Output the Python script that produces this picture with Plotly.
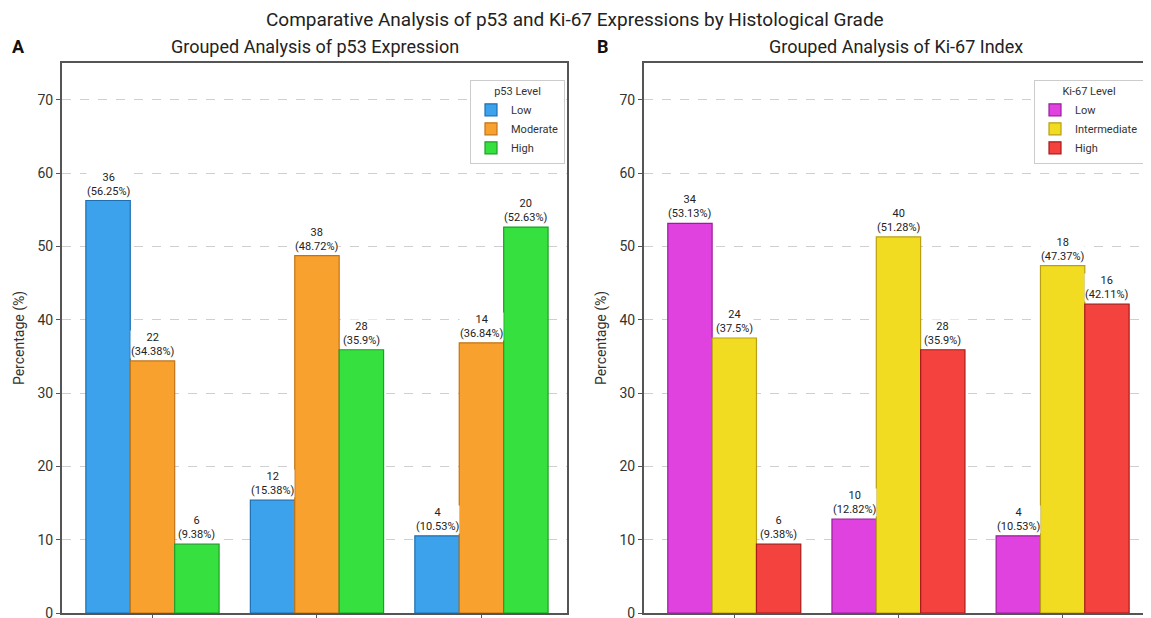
import plotly.graph_objects as go

# ---- data ----
grades = ["Grade I", "Grade II", "Grade III"]

p53_levels = ["Low", "Moderate", "High"]
p53_counts = {
    "Low": [36, 12, 4],
    "Moderate": [22, 38, 14],
    "High": [6, 28, 20],
}
p53_pct = {
    "Low": [56.25, 15.38, 10.53],
    "Moderate": [34.38, 48.72, 36.84],
    "High": [9.38, 35.9, 52.63],
}

ki_levels = ["Low", "Intermediate", "High"]
ki_counts = {
    "Low": [34, 10, 4],
    "Intermediate": [24, 40, 18],
    "High": [6, 28, 16],
}
ki_pct = {
    "Low": [53.13, 12.82, 10.53],
    "Intermediate": [37.5, 51.28, 47.37],
    "High": [9.38, 35.9, 42.11],
}

p53_colors = ["#3DA2EC", "#F9A12E", "#36E03E"]
p53_edges = ["#1F6FB0", "#C27414", "#1E9E28"]
ki_colors = ["#E042E0", "#F2DC22", "#F4433E"]
ki_edges = ["#9A1E9A", "#B8A010", "#A81A18"]

# page has an 8px body margin; figure sized to fit in the 1151x618 window
OFF = 8
W, H = 1151 - OFF, 618 - OFF
FONT = "Roboto"

def px_x(p):
    return (p - OFF) / W

def px_y(p):
    return 1 - (p - OFF) / H

fig = go.Figure()

offsets = [-0.27, 0.0, 0.27]
bar_w = 0.27

def add_panel(levels, counts, pct, colors, edges, xa, ya, legend):
    for j, lvl in enumerate(levels):
        xs = [i + offsets[j] for i in range(len(grades))]
        fig.add_trace(go.Bar(
            x=xs, y=pct[lvl], width=bar_w, name=lvl,
            marker=dict(color=colors[j], line=dict(color=edges[j], width=1.2)),
            xaxis=xa, yaxis=ya, legend=legend,
            customdata=grades,
            hovertemplate="%{customdata}<br>%{y}%<extra>" + lvl + "</extra>",
        ))
        for i in range(len(grades)):
            fig.add_annotation(
                x=xs[i], y=pct[lvl][i], xref=xa, yref=ya,
                text=f"{counts[lvl][i]}<br>({pct[lvl][i]}%)",
                showarrow=False, yanchor="bottom", yshift=2,
                bgcolor="white", borderpad=0,
                font=dict(size=11, color="#222", family=FONT),
            )

add_panel(p53_levels, p53_counts, p53_pct, p53_colors, p53_edges, "x", "y", "legend")
add_panel(ki_levels, ki_counts, ki_pct, ki_colors, ki_edges, "x2", "y2", "legend2")

axis_common = dict(
    showline=True, mirror=True, linecolor="#555", linewidth=2, automargin=False,
)
xcommon = dict(axis_common, range=[-0.55, 2.52], tickvals=[0, 1, 2], ticktext=grades,
               showticklabels=False, ticks="outside", ticklen=4, tickcolor="#555",
               showgrid=False, zeroline=False)
ycommon = dict(axis_common, range=[0, 75], tickvals=[0, 10, 20, 30, 40, 50, 60, 70],
               ticks="outside", ticklen=4, tickcolor="#555",
               ticklabeloverflow="allow",
               showgrid=True, gridcolor="#CFCFCF", griddash="dash", gridwidth=1,
               zeroline=False,
               tickfont=dict(size=14, color="#333", family=FONT),
               title=dict(text="Percentage (%)", font=dict(size=14, color="#333", family=FONT),
                          standoff=10))

ydom = [px_y(613), px_y(63)]
fig.update_layout(
    xaxis=dict(xcommon, domain=[px_x(62), px_x(567)], anchor="y"),
    yaxis=dict(ycommon, domain=ydom, anchor="x"),
    xaxis2=dict(xcommon, domain=[px_x(644), px_x(1148)], anchor="y2"),
    yaxis2=dict(ycommon, domain=ydom, anchor="x2"),
)

legend_common = dict(
    bgcolor="white", bordercolor="#CCCCCC", borderwidth=1,
    font=dict(size=11, color="#333", family=FONT),
    xanchor="right", yanchor="top", y=px_y(80),
    tracegroupgap=0, itemwidth=30,
)
fig.update_layout(
    legend=dict(legend_common, x=px_x(565),
                title=dict(text="p53 Level", side="top center",
                           font=dict(size=11, color="#333", family=FONT))),
    legend2=dict(legend_common, x=px_x(1144),
                 title=dict(text="Ki-67 Level", side="top center",
                            font=dict(size=11, color="#333", family=FONT))),
)

# titles
fig.add_annotation(text="Comparative Analysis of p53 and Ki-67 Expressions by Histological Grade",
                   x=px_x(575), y=px_y(20), xref="paper", yref="paper", showarrow=False,
                   font=dict(size=19, color="#222", family=FONT),
                   xanchor="center", yanchor="middle")
fig.add_annotation(text="Grouped Analysis of p53 Expression",
                   x=px_x(315), y=px_y(47), xref="paper", yref="paper", showarrow=False,
                   font=dict(size=18, color="#222", family=FONT),
                   xanchor="center", yanchor="middle")
fig.add_annotation(text="Grouped Analysis of Ki-67 Index",
                   x=px_x(896), y=px_y(47), xref="paper", yref="paper", showarrow=False,
                   font=dict(size=18, color="#222", family=FONT),
                   xanchor="center", yanchor="middle")
fig.add_annotation(text="<b>A</b>", x=px_x(18), y=px_y(47), xref="paper", yref="paper",
                   showarrow=False, font=dict(size=18, color="#111", family=FONT),
                   yanchor="middle", xanchor="center")
fig.add_annotation(text="<b>B</b>", x=px_x(603), y=px_y(47), xref="paper", yref="paper",
                   showarrow=False, font=dict(size=18, color="#111", family=FONT),
                   yanchor="middle", xanchor="center")

fig.update_layout(
    width=W, height=H, barmode="overlay",
    margin=dict(l=0, r=0, t=0, b=0, autoexpand=False),
    paper_bgcolor="white", plot_bgcolor="white",
    font=dict(family=FONT, color="#333"),
)

fig.write_html("out.html")
